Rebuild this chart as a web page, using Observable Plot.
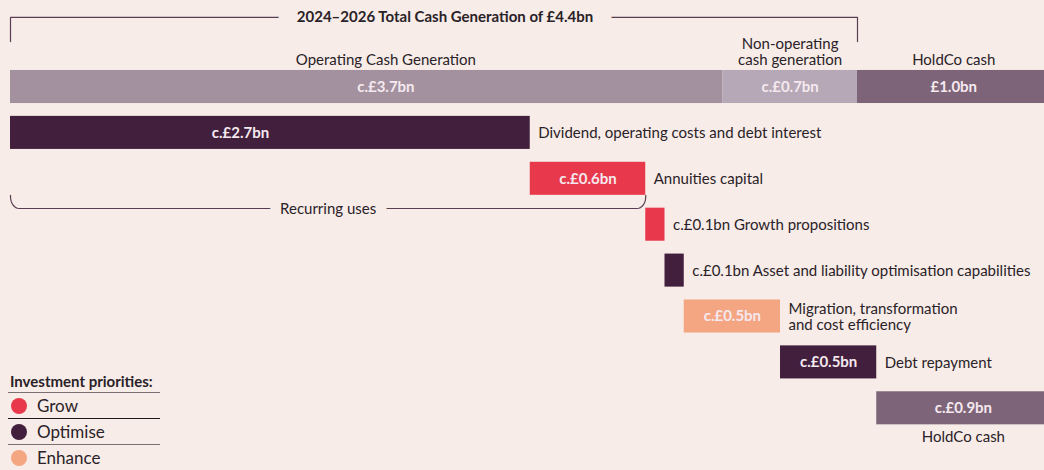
<!DOCTYPE html>
<html>
<head>
<meta charset="utf-8">
<script src="https://cdn.jsdelivr.net/npm/d3@7"></script>
<script src="https://cdn.jsdelivr.net/npm/@observablehq/plot@0.6"></script>
<style>
  html, body { margin: 0; padding: 0; background: #f7ece7; overflow: hidden; }
  #wrap { position: relative; width: 1044px; height: 470px; font-family: Lato, "Open Sans", sans-serif; }
  #legend { position: absolute; left: 8px; top: 372px; width: 152px; color: #2a2228; }
  #legend .head { font-weight: 700; font-size: 15px; line-height: 18px; padding-left: 2px; border-bottom: 1.5px solid #7a7072; padding-bottom: 2px; white-space: nowrap; }
  #legend .item { display: flex; align-items: center; height: 25px; font-size: 17px; border-bottom: 1.5px solid #7a7072; }
  #legend .item:nth-child(2) { border-bottom-color: #1d1a1c; }
  #legend .item:last-child { border-bottom: none; }
  #legend .dot { width: 16px; height: 16px; border-radius: 50%; margin: 0 10px 0 3px; }
</style>
</head>
<body>
<div id="wrap"><div id="chart"></div><div id="legend"></div></div>
<script>
// ---- data ----
const topCategories = ["Operating Cash Generation", "Non-operating\ncash generation", "HoldCo cash"];
const topValues = [3.7, 0.7, 1.0];
const topValueLabels = ["c.£3.7bn", "c.£0.7bn", "£1.0bn"];
const topKinds = ["Operating", "Non-operating", "HoldCo"];

const useCategories = [
  "Dividend, operating costs and debt interest",
  "Annuities capital",
  "Growth propositions",
  "Asset and liability optimisation capabilities",
  "Migration, transformation\nand cost efficiency",
  "Debt repayment",
  "HoldCo cash"
];
const useValues = [2.7, 0.6, 0.1, 0.1, 0.5, 0.5, 0.9];
const useKinds = ["Optimise", "Grow", "Grow", "Optimise", "Enhance", "Optimise", "HoldCo"];

const totalTitle = "2024–2026 Total Cash Generation of £4.4bn";
const totalValue = 4.4;
const recurringTitle = "Recurring uses";
const recurringValue = 3.3;
const legendTitle = "Investment priorities:";
const priorities = ["Grow", "Optimise", "Enhance"];

// ---- styles ----
const kinds = ["Operating", "Non-operating", "HoldCo", "Grow", "Optimise", "Enhance"];
const kindColors = ["#a3919f", "#b6a8b6", "#7e6478", "#e8394c", "#421f3d", "#f4a582"];
const bg = "#f7ece7";
const ink = "#2a2228";
const onBar = "#f5e9ef";
const lineColor = "#5a3d52";
const half = 0.36;
const fs = 15;
// label centring nudges (value units) for the two widest bars
const nudge = {"Operating Cash Generation": 0.1, "Dividend, operating costs and debt interest": -0.155};

// ---- tables ----
let acc = 0;
const topTable = topCategories.map((c, i) => {
  const d = {name: c, x1: acc, x2: acc + topValues[i], row: 0, label: topValueLabels[i], kind: topKinds[i]};
  acc += topValues[i];
  return d;
});
acc = 0;
const useTable = useCategories.map((c, i) => {
  const v = useValues[i];
  const d = {name: c, value: v, x1: acc, x2: acc + v, row: i + 1, kind: useKinds[i],
             label: "c.£" + v.toFixed(1) + "bn"};
  acc += v;
  d.inside = v >= 0.5;
  return d;
});
const mid = d => (d.x1 + d.x2) / 2 + (nudge[d.name] || 0);
const sideTable = useTable.filter(d => d.kind !== "HoldCo")
  .map(d => ({...d, text: d.inside ? d.name : d.label + " " + d.name}));
const belowTable = useTable.filter(d => d.kind === "HoldCo");
const insideTable = [...topTable, ...useTable.filter(d => d.inside)];

// bracket geometry (rows / value units)
const topRowY = -1.515, topFootY = -0.99;
const recRowY = 2.647, recFootY = 2.36;
function roundedBracket(x1, x2, yLine, yFoot, rx, ry, n = 8) {
  const pts = [];
  for (let k = 0; k <= n; k++) { const a = Math.PI / 2 * k / n; pts.push({x: x1 + rx - rx * Math.cos(a), y: yLine - ry + ry * Math.sin(a)}); }
  for (let k = 0; k <= n; k++) { const a = Math.PI / 2 * k / n; pts.push({x: x2 - rx + rx * Math.sin(a), y: yLine - ry * (1 - Math.cos(a))}); }
  pts.unshift({x: x1, y: yFoot});
  pts.push({x: x2, y: yFoot});
  return pts;
}
const topBracket = [{x: 0, y: topFootY}, {x: 0, y: topRowY}, {x: totalValue, y: topRowY}, {x: totalValue, y: topFootY}];
const recBracket = roundedBracket(0, recurringValue, recRowY, recFootY, 0.045, 0.26);

const font = "Lato, 'Open Sans', sans-serif";

const chart = Plot.plot({
  width: 1044,
  height: 470,
  margin: 0,
  style: {background: bg, fontFamily: font, overflow: "hidden"},
  x: {domain: [0, 5.4], range: [10, 1049.5], axis: null},
  y: {domain: [0, 7], range: [86.5, 407.8], axis: null},
  color: {domain: kinds, range: kindColors},
  marks: [
    Plot.rect([...topTable, ...useTable], {x1: "x1", x2: "x2", y1: d => d.row - half, y2: d => d.row + half, fill: "kind"}),
    // brackets
    Plot.line(topBracket, {x: "x", y: "y", stroke: lineColor, strokeWidth: 1.2}),
    Plot.text([totalTitle], {x: totalValue / 2, y: topRowY, text: d => d, fontSize: fs, fontWeight: 700, fill: ink, dx: 11,
      stroke: bg, strokeWidth: 38, strokeLinejoin: "round", paintOrder: "stroke"}),
    Plot.line(recBracket, {x: "x", y: "y", stroke: lineColor, strokeWidth: 1.2}),
    Plot.text([recurringTitle], {x: recurringValue / 2, y: recRowY, text: d => d, fontSize: fs, fill: ink, dy: 1,
      stroke: bg, strokeWidth: 22, strokeLinejoin: "round", paintOrder: "stroke"}),
    // labels above top bars
    Plot.text(topTable, {x: mid, y: d => d.row - half, text: "name", lineAnchor: "bottom", dy: -5,
      fontSize: fs, lineHeight: 1.07, fill: ink}),
    // values inside bars
    Plot.text(insideTable, {x: mid, y: "row", text: "label", fontSize: fs, fontWeight: 700, fill: onBar}),
    // side labels
    Plot.text(sideTable, {x: "x2", y: "row", text: "text", textAnchor: "start", dx: 8, fontSize: fs, lineHeight: 1.07, fill: ink}),
    // below label
    Plot.text(belowTable, {x: mid, y: d => d.row + half, text: "name", lineAnchor: "top", dy: 7, fontSize: fs, fill: ink})
  ]
});
document.getElementById("chart").appendChild(chart);

// legend
const leg = document.getElementById("legend");
const head = document.createElement("div");
head.className = "head"; head.textContent = legendTitle; leg.appendChild(head);
priorities.forEach(p => {
  const it = document.createElement("div"); it.className = "item";
  const dot = document.createElement("span"); dot.className = "dot";
  dot.style.background = kindColors[kinds.indexOf(p)];
  it.appendChild(dot);
  it.appendChild(document.createTextNode(p));
  leg.appendChild(it);
});
</script>
</body>
</html>
